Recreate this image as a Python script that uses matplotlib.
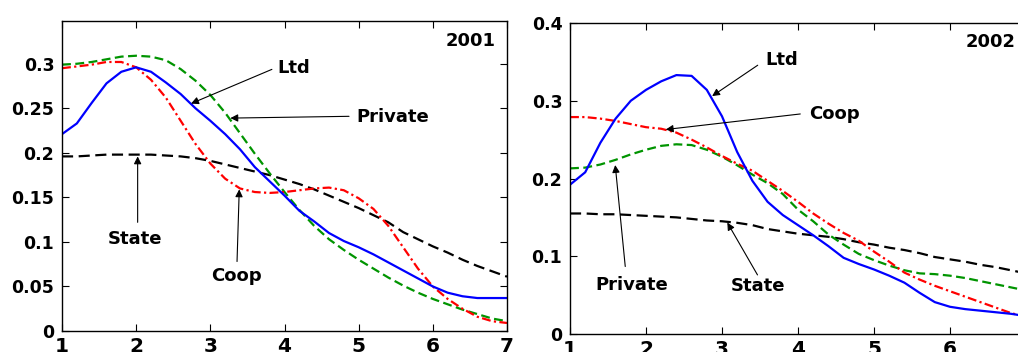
import matplotlib
matplotlib.use("Agg")
import matplotlib.pyplot as plt

plt.rcParams['font.family'] = ['DejaVu Sans']
plt.rcParams['font.weight'] = 'bold'

# ---- 2001 panel ----
x01 = [1.0, 1.2, 1.4, 1.6, 1.8, 2.0, 2.2, 2.4, 2.6, 2.8, 3.0, 3.2, 3.4, 3.6, 3.8,
       4.0, 4.2, 4.4, 4.6, 4.8, 5.0, 5.2, 5.4, 5.6, 5.8, 6.0, 6.2, 6.4, 6.6, 6.8, 7.0]
ltd01 = [0.221, 0.233, 0.256, 0.278, 0.291, 0.296, 0.291, 0.279, 0.266, 0.250,
         0.236, 0.221, 0.204, 0.184, 0.168, 0.152, 0.135, 0.123, 0.110, 0.101,
         0.094, 0.086, 0.077, 0.068, 0.059, 0.050, 0.043, 0.039, 0.037, 0.037, 0.037]
private01 = [0.299, 0.300, 0.302, 0.305, 0.308, 0.309, 0.308, 0.304, 0.294, 0.281,
             0.265, 0.245, 0.222, 0.199, 0.177, 0.156, 0.136, 0.118, 0.103, 0.091,
             0.080, 0.070, 0.060, 0.051, 0.043, 0.036, 0.030, 0.024, 0.019, 0.014, 0.011]
coop01 = [0.295, 0.297, 0.299, 0.302, 0.302, 0.296, 0.282, 0.262, 0.236, 0.210,
          0.188, 0.171, 0.160, 0.156, 0.155, 0.156, 0.158, 0.160, 0.161, 0.158,
          0.149, 0.137, 0.118, 0.094, 0.070, 0.050, 0.036, 0.025, 0.016, 0.011, 0.009]
state01 = [0.196, 0.196, 0.197, 0.198, 0.198, 0.198, 0.198, 0.197, 0.196, 0.194,
           0.191, 0.187, 0.183, 0.179, 0.175, 0.170, 0.165, 0.159, 0.152, 0.145,
           0.138, 0.130, 0.122, 0.111, 0.103, 0.095, 0.088, 0.080, 0.073, 0.067, 0.061]

# ---- 2002 panel ----
x02 = [1.0, 1.2, 1.4, 1.6, 1.8, 2.0, 2.2, 2.4, 2.6, 2.8, 3.0, 3.2, 3.4, 3.6, 3.8,
       4.0, 4.2, 4.4, 4.6, 4.8, 5.0, 5.2, 5.4, 5.6, 5.8, 6.0, 6.2, 6.4, 6.6, 6.8, 7.0]
ltd02 = [0.192, 0.208, 0.246, 0.277, 0.300, 0.314, 0.325, 0.333, 0.332, 0.314,
         0.280, 0.234, 0.197, 0.170, 0.153, 0.140, 0.127, 0.113, 0.098, 0.090,
         0.083, 0.075, 0.066, 0.053, 0.041, 0.035, 0.032, 0.030, 0.028, 0.026, 0.023]
coop02 = [0.279, 0.279, 0.277, 0.274, 0.270, 0.266, 0.264, 0.259, 0.250, 0.240,
          0.229, 0.219, 0.210, 0.197, 0.184, 0.170, 0.155, 0.142, 0.130, 0.120,
          0.106, 0.093, 0.079, 0.070, 0.062, 0.055, 0.048, 0.041, 0.034, 0.027, 0.022]
private02 = [0.213, 0.214, 0.218, 0.224, 0.231, 0.237, 0.242, 0.244, 0.243, 0.237,
             0.228, 0.217, 0.205, 0.194, 0.180, 0.160, 0.145, 0.128, 0.115, 0.103,
             0.095, 0.088, 0.082, 0.078, 0.077, 0.075, 0.072, 0.068, 0.064, 0.060, 0.056]
state02 = [0.155, 0.155, 0.154, 0.154, 0.153, 0.152, 0.151, 0.150, 0.148, 0.146,
           0.145, 0.143, 0.140, 0.135, 0.132, 0.129, 0.127, 0.125, 0.122, 0.118,
           0.115, 0.111, 0.108, 0.104, 0.099, 0.096, 0.093, 0.089, 0.086, 0.082, 0.078]

xticks = [1, 2, 3, 4, 5, 6, 7]
yticks01 = [0, 0.05, 0.1, 0.15, 0.2, 0.25, 0.3]
ytick_labels01 = ['0', '0.05', '0.1', '0.15', '0.2', '0.25', '0.3']
yticks02 = [0, 0.1, 0.2, 0.3, 0.4]
ytick_labels02 = ['0', '0.1', '0.2', '0.3', '0.4']

GREEN = (0.0, 0.58, 0.0)
LW = 1.6
LABEL_FS = 13
arrow = dict(arrowstyle='-|>', color='black', lw=0.8, mutation_scale=11,
             shrinkA=0, shrinkB=0)


def draw_lines(ax, x, state, private, coop, ltd):
    ax.plot(x, state, color='black', lw=LW, dashes=(5, 2.5))
    ax.plot(x, private, color=GREEN, lw=LW, dashes=(4, 2))
    ax.plot(x, coop, color='red', lw=LW, dashes=(4, 1.5, 1, 1.5))
    ax.plot(x, ltd, color='blue', lw=LW)


def style_axes(ax, ylim, yticks, ylabels):
    ax.set_xlim(1, 7)
    ax.set_ylim(*ylim)
    ax.set_xticks(xticks)
    ax.set_yticks(yticks)
    ax.set_yticklabels(ylabels)
    ax.tick_params(direction='in', top=True, right=True, length=5)
    ax.tick_params(axis='x', labelsize=14.5, pad=4.5)
    ax.tick_params(axis='y', labelsize=12.5, pad=5.5)
    for lab in ax.get_xticklabels() + ax.get_yticklabels():
        lab.set_fontweight('bold')
    for sp in ax.spines.values():
        sp.set_linewidth(1.0)


def label(ax, x, y, s, ha='center'):
    ax.text(x, y, s, ha=ha, va='center', fontsize=LABEL_FS, fontweight='bold')


fig = plt.figure(figsize=(10.18, 3.52), dpi=100)

# left: 2001
ax1 = fig.add_axes([62 / 1018, 21 / 352, 445 / 1018, 310 / 352])
draw_lines(ax1, x01, state01, private01, coop01, ltd01)
style_axes(ax1, (0, 0.348), yticks01, ytick_labels01)
label(ax1, 6.84, 0.326, '2001', ha='right')
ax1.annotate('', xy=(2.74, 0.2553), xytext=(3.83, 0.2937), arrowprops=arrow)
label(ax1, 3.91, 0.2955, 'Ltd', ha='left')
ax1.annotate('', xy=(3.27, 0.239), xytext=(4.87, 0.241), arrowprops=arrow)
label(ax1, 4.97, 0.240, 'Private', ha='left')
ax1.annotate('', xy=(2.02, 0.196), xytext=(2.02, 0.122), arrowprops=arrow)
label(ax1, 1.98, 0.103, 'State')
ax1.annotate('', xy=(3.39, 0.159), xytext=(3.36, 0.078), arrowprops=arrow)
label(ax1, 3.35, 0.0616, 'Coop')

# right: 2002 (panel runs past the right edge of the figure)
ax2 = fig.add_axes([570 / 1018, 18 / 352, 456 / 1018, 311 / 352])
draw_lines(ax2, x02, state02, private02, coop02, ltd02)
style_axes(ax2, (0, 0.4), yticks02, ytick_labels02)
label(ax2, 6.86, 0.375, '2002', ha='right')
ax2.annotate('', xy=(2.87, 0.306), xytext=(3.47, 0.3457), arrowprops=arrow)
label(ax2, 3.78, 0.353, 'Ltd')
ax2.annotate('', xy=(2.26, 0.263), xytext=(4.03, 0.283), arrowprops=arrow)
label(ax2, 4.15, 0.2824, 'Coop', ha='left')
ax2.annotate('', xy=(1.595, 0.2173), xytext=(1.727, 0.0868), arrowprops=arrow)
label(ax2, 1.815, 0.0633, 'Private')
ax2.annotate('', xy=(3.07, 0.1433), xytext=(3.467, 0.076), arrowprops=arrow)
label(ax2, 3.48, 0.062, 'State')

fig.savefig('out.png', dpi=100)
